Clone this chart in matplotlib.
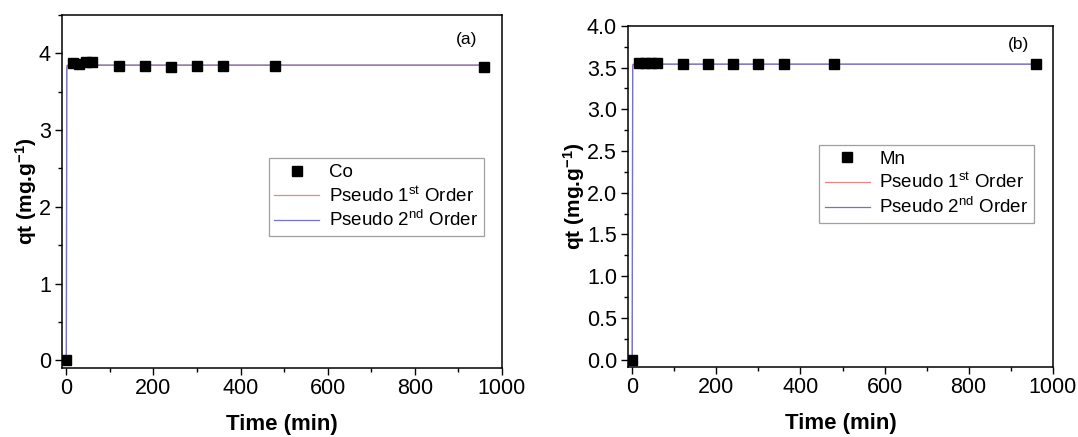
import matplotlib
matplotlib.use("Agg")
import matplotlib.pyplot as plt
from matplotlib.ticker import MultipleLocator

plt.rcParams['font.family'] = ['Liberation Sans', 'DejaVu Sans']
plt.rcParams['mathtext.fontset'] = 'custom'
plt.rcParams['mathtext.rm'] = 'Liberation Sans'
plt.rcParams['mathtext.it'] = 'Liberation Sans:italic'
plt.rcParams['mathtext.bf'] = 'Liberation Sans:bold'

# Data
time_min = [0, 15, 30, 45, 60, 120, 180, 240, 300, 360, 480, 960]
co_qt = [0.0, 3.87, 3.86, 3.88, 3.89, 3.83, 3.84, 3.82, 3.83, 3.83, 3.83, 3.82]
mn_qt = [0.0, 3.55, 3.555, 3.55, 3.55, 3.545, 3.545, 3.545, 3.545, 3.54, 3.54, 3.54]

# fitted model curves
fit_t = [0, 1, 2, 15, 960]
co_fit1 = [0.0, 3.80, 3.845, 3.845, 3.845]
co_fit2 = [0.0, 3.78, 3.84, 3.845, 3.845]
mn_fit1 = [0.0, 3.52, 3.54, 3.54, 3.54]
mn_fit2 = [0.0, 3.50, 3.535, 3.54, 3.54]

RED = '#e08a8a'
BLUE = '#7474c4'

fig = plt.figure(figsize=(10.78, 4.37), dpi=100)
ax1 = fig.add_axes([0.0575, 0.158, 0.408, 0.808])
ax2 = fig.add_axes([0.5826, 0.160, 0.394, 0.781])

def draw(ax, q, f1, f2, name, tag, tag_y, ylim, major, minor, fmt, leg_anchor):
    ax.plot(fit_t, f1, color=RED, lw=0.9, label='Pseudo 1$^{\\mathrm{st}}$ Order', zorder=2)
    ax.plot(fit_t, f2, color=BLUE, lw=0.9, label='Pseudo 2$^{\\mathrm{nd}}$ Order', zorder=2)
    ax.plot(time_min, q, 's', color='black', ms=6.5, label=name, zorder=3)
    ax.set_xlim(-10, 1000)
    ax.set_ylim(*ylim)
    ax.xaxis.set_major_locator(MultipleLocator(200))
    ax.xaxis.set_minor_locator(MultipleLocator(100))
    ax.yaxis.set_major_locator(MultipleLocator(major))
    ax.yaxis.set_minor_locator(MultipleLocator(minor))
    if fmt:
        ax.yaxis.set_major_formatter(matplotlib.ticker.FormatStrFormatter(fmt))
    ax.tick_params(which='major', direction='out', length=5, width=1, labelsize=15.5, pad=3)
    ax.tick_params(axis='x', which='major', pad=2)
    ax.tick_params(which='minor', direction='out', length=3, width=1)
    for s in ax.spines.values():
        s.set_linewidth(1.1)
    ax.set_xlabel('Time (min)', fontsize=16, fontweight='bold', labelpad=11)
    ax.set_ylabel('qt (mg.g$^{\\mathbf{-1}}$)', fontsize=15, fontweight='bold', labelpad=0)
    ax.text(0.945, tag_y, tag, transform=ax.transAxes, ha='right', va='center', fontsize=12.5)
    handles, labels = ax.get_legend_handles_labels()
    order = [2, 0, 1]
    leg = ax.legend([handles[i] for i in order], [labels[i] for i in order],
                    loc='lower left', bbox_to_anchor=leg_anchor, fontsize=13.5,
                    frameon=True, fancybox=False, edgecolor='#888888',
                    handlelength=2.4, borderpad=0.3, labelspacing=0.25,
                    handletextpad=0.5, borderaxespad=0)
    leg.get_frame().set_linewidth(0.9)

draw(ax1, co_qt, co_fit1, co_fit2, 'Co', '(a)', 0.93, (-0.1, 4.5), 1, 0.5, None, (0.47, 0.374))
draw(ax2, mn_qt, mn_fit1, mn_fit2, 'Mn', '(b)', 0.945, (-0.09, 4.0), 0.5, 0.25, '%.1f', (0.45, 0.423))

fig.savefig('out.png', dpi=100)
